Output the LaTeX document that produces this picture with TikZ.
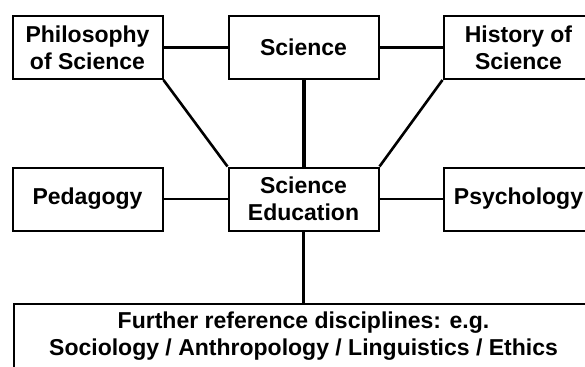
\documentclass[tikz,border=0pt]{standalone}
\usepackage{fontspec}
\setmainfont{Liberation Sans}
\usepackage{tikz}
\usetikzlibrary{positioning}

\begin{document}
\begin{tikzpicture}[
  x=1pt, y=-1pt,
  field/.style={draw, line width=2pt, align=center, minimum width=150pt, minimum height=63pt,
    font=\fontsize{23}{27}\selectfont\bfseries, inner sep=0pt},
  link/.style={line width=2.6pt},
  mainlink/.style={line width=4pt}
]
\useasboundingbox (0,0) rectangle (585,366);
\node[field] (phil) at (87.5,47.5) {Philosophy\\of Science};
\node[field] (sci) at (303.5,47.5) {Science};
\node[field] (hist) at (518.5,47.5) {History of\\Science};
\node[field] (peda) at (87.5,199) {Pedagogy};
\node[field] (sciedu) at (303.5,199) {Science\\Education};
\node[field] (psych) at (518.5,199) {Psychology};
\node[field, minimum width=580pt, minimum height=64pt] (further) at (303.5,336)
  {Further reference disciplines: e.g.\\Sociology / Anthropology / Linguistics / Ethics};

\draw[link] (phil) -- (sci);
\draw[link] (sci) -- (hist);
\draw[mainlink] (sci) -- (sciedu);
\draw[link] (phil.south east) -- (sciedu.north west);
\draw[link] (hist.south west) -- (sciedu.north east);
\draw[link] (peda) -- (sciedu);
\draw[link] (sciedu) -- (psych);
\draw[link] (sciedu) -- (further);
\end{tikzpicture}
\end{document}
